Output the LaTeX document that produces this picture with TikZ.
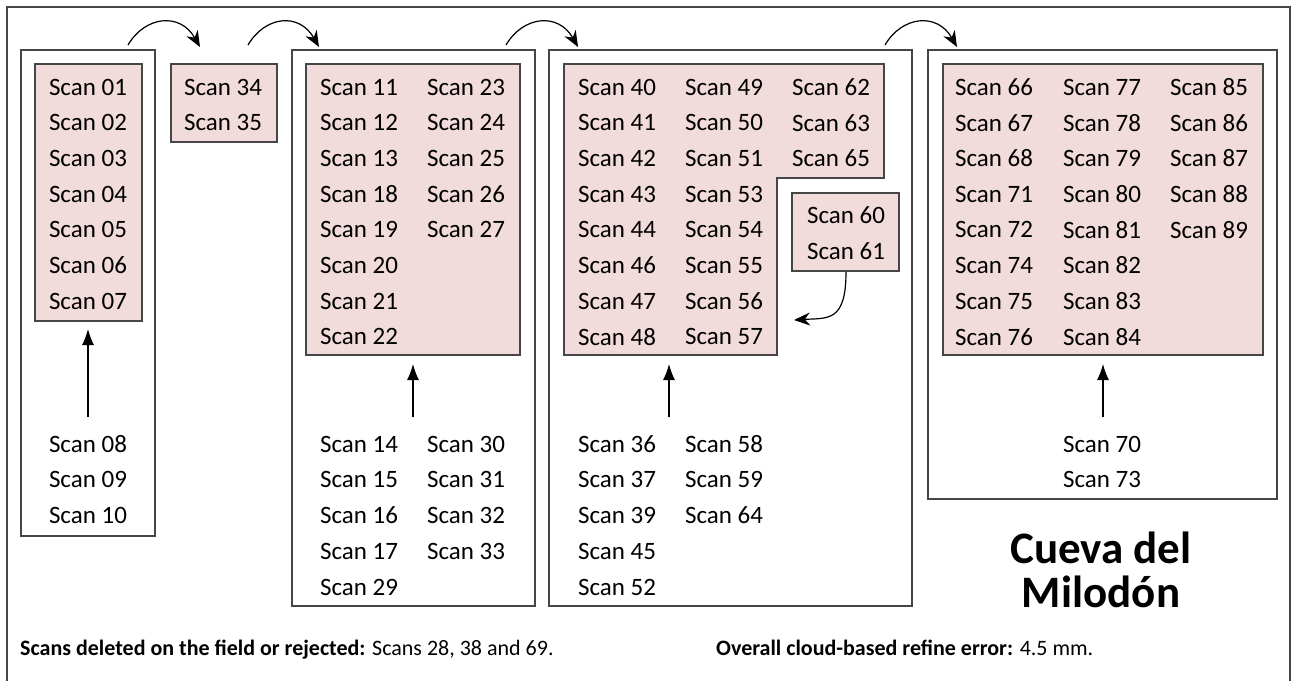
\documentclass[tikz,border=0pt]{standalone}
\usepackage{fontspec}
\setmainfont{Carlito}
\usetikzlibrary{arrows.meta}
\definecolor{scanpink}{RGB}{242,220,219}
\definecolor{boxgray}{RGB}{70,70,70}

\begin{document}
\begin{tikzpicture}[x=1pt,y=-1pt,
  scan/.style={font=\fontsize{25}{30}\selectfont, inner sep=0pt},
  group/.style={draw=boxgray, line width=1.4pt},
  kept/.style={draw=boxgray, line width=1.2pt, fill=scanpink},
  hop/.style={-{Stealth[length=16pt,width=13pt]}, line width=1.2pt},
  lift/.style={-{Latex[length=16pt,width=12pt]}, line width=1.2pt},
  note/.style={font=\fontsize{22}{26}\selectfont, anchor=base west, inner sep=0pt}]
\useasboundingbox (0,0) rectangle (1292,680);
\draw[group] (7,684) -- (7,7) -- (1290,7) -- (1290,684);
% groups of scans
\draw[group] (21,50) rectangle (155,536);
\draw[group] (292,50) rectangle (535,606);
\draw[group] (549,50) rectangle (912,606);
\draw[group] (928,50) rectangle (1277,499);
% registered scans (pink)
\draw[kept] (35,64) rectangle (142,321);
\draw[kept] (171,64) rectangle (277,142);
\draw[kept] (306,64) rectangle (520,355);
\draw[kept] (564,64) -- (884,64) -- (884,178) -- (777,178) -- (777,355) -- (564,355) -- cycle;
\draw[kept] (792,193) rectangle (899,271);
\draw[kept] (943,64) rectangle (1263,355);
% scan labels, upper rows
\foreach \xx/\ids in {88/{01,02,03,04,05,06,07},223/{34,35},
    359/{11,12,13,18,19,20,21,22},466/{23,24,25,26,27},
    617/{40,41,42,43,44,46,47,48},724/{49,50,51,53,54,55,56,57},831/{62,63,65},
    994/{66,67,68,71,72,74,75,76},1102/{77,78,79,80,81,82,83,84},1209/{85,86,87,88,89}}
  {\foreach \n [count=\i from 0] in \ids
    {\node[scan] (s\n) at (\xx,{87+35.7*\i}) {Scan \n};}}
\foreach \n [count=\i from 0] in {60,61}
  {\node[scan] (s\n) at (846,{215+36*\i}) {Scan \n};}
% scan labels, lower rows
\foreach \xx/\ids in {88/{08,09,10},359/{14,15,16,17,29},466/{30,31,32,33},
    617/{36,37,39,45,52},724/{58,59,64},1102/{70,73}}
  {\foreach \n [count=\i from 0] in \ids
    {\node[scan] (s\n) at (\xx,{444+35.75*\i}) {Scan \n};}}
% arrows between groups
\coordinate (h1a) at (128,45);  \coordinate (h1b) at (200,47);
\coordinate (h2a) at (248,45);  \coordinate (h2b) at (319,47);
\coordinate (h3a) at (506,45);  \coordinate (h3b) at (578,47);
\coordinate (h4a) at (885,45);  \coordinate (h4b) at (957,47);
\foreach \k in {1,2,3,4}
  {\draw[hop] (h\k a) .. controls +(17,-29) and +(-20,-35) .. (h\k b);}
\coordinate (m1) at (846,272);  \coordinate (m2) at (794,320);
\draw[hop] (m1) .. controls +(0,50) and +(34,-2) .. (m2);
% arrows into the registered scans
\foreach \k/\xx in {1/88,3/413,4/669,5/1103}
  {\coordinate (u\k) at (\xx,417);}
\coordinate (t1) at (88,329);
\coordinate (t3) at (413,364);
\coordinate (t4) at (669,364);
\coordinate (t5) at (1103,364);
\foreach \k in {1,3,4,5}
  {\draw[lift] (u\k) -- (t\k);}
% title
\node[font=\bfseries\fontsize{45}{45}\selectfont, anchor=base] (cueva) at (1101,563) {Cueva del};
\node[font=\bfseries\fontsize{45}{45}\selectfont, anchor=base] (milodon) at (1101,607) {Milodón};
% notes
\node[note] (deleted) at (20,655)
  {\textbf{Scans deleted on the field or rejected:} Scans 28, 38 and 69.};
\node[note] (refine) at (716,655)
  {\textbf{Overall cloud-based refine error:} 4.5 mm.};
\end{tikzpicture}
\end{document}
